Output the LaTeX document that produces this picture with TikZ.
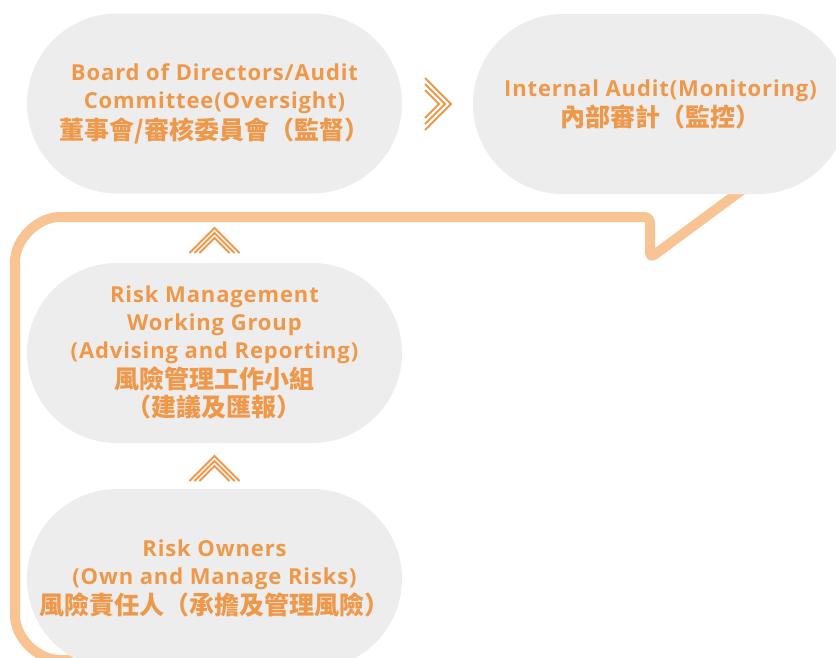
\documentclass[tikz,border=0pt]{standalone}
\usepackage{fontspec}
\setmainfont{Open Sans}[LetterSpace=4]
\newfontfamily\zhfont{Noto Sans CJK TC}[UprightFont={* Bold}]
\usetikzlibrary{shapes.misc,backgrounds}
\definecolor{boxgray}{HTML}{EDEDED}
\definecolor{txtorange}{HTML}{F0984A}
\definecolor{lineorange}{HTML}{F9C494}
\newcommand\zhline[1]{{\zhfont\fontsize{25}{28}\selectfont #1}}
\begin{document}
\begin{tikzpicture}[x=1pt,y=-1pt,
  stadium/.style={rounded rectangle, fill=boxgray, minimum width=375pt, minimum height=180pt,
    inner sep=0pt, text=txtorange, align=center, font=\bfseries\fontsize{22}{28}\selectfont},
  chev/.style={draw=txtorange, line width=1.8pt},
  loopline/.style={draw=lineorange, line width=10pt, line cap=round, line join=round}]
\useasboundingbox (0,0) rectangle (836,657);

\node[stadium] (S1) at (214.5,103.5) {Board of Directors/Audit\\Committee(Oversight)\\[3pt]\zhline{董事會/審核委員會（監督）}};
\node[stadium] (S2) at (660.5,104) {Internal Audit(Monitoring)\\[2pt]\zhline{內部審計（監控）}};
\node[stadium] (S3) at (214.5,353) {Risk Management\\Working Group\\(Advising and Reporting)\\[2pt]\zhline{風險管理工作小組}\\\zhline{（建議及匯報）}};
\node[stadium] (S4) at (214.5,579) {Risk Owners\\(Own and Manage Risks)\\[2pt]\zhline{風險責任人（承擔及管理風險）}};

\coordinate (loopA) at (765,173);
\coordinate (loopB) at (200,660);
\begin{scope}[on background layer]
\draw[loopline, rounded corners=5pt] (loopA) -- (650,258) -- (650,217) -- (65,217)
  arc[start angle=270, end angle=180, radius=50] -- (15,610)
  arc[start angle=180, end angle=90, radius=50] -- (loopB);
\end{scope}

% chevrons
\foreach \h in {26,20,14} {
  \draw[chev] (425,104-\h) -- (425+\h,104) -- (425,104+\h);
}
\foreach \base in {253,481} {
  \foreach \h in {25,20,15} {
    \draw[chev] (214.5-\h,\base) -- (214.5,\base-\h) -- (214.5+\h,\base);
  }
}
\end{tikzpicture}
\end{document}
